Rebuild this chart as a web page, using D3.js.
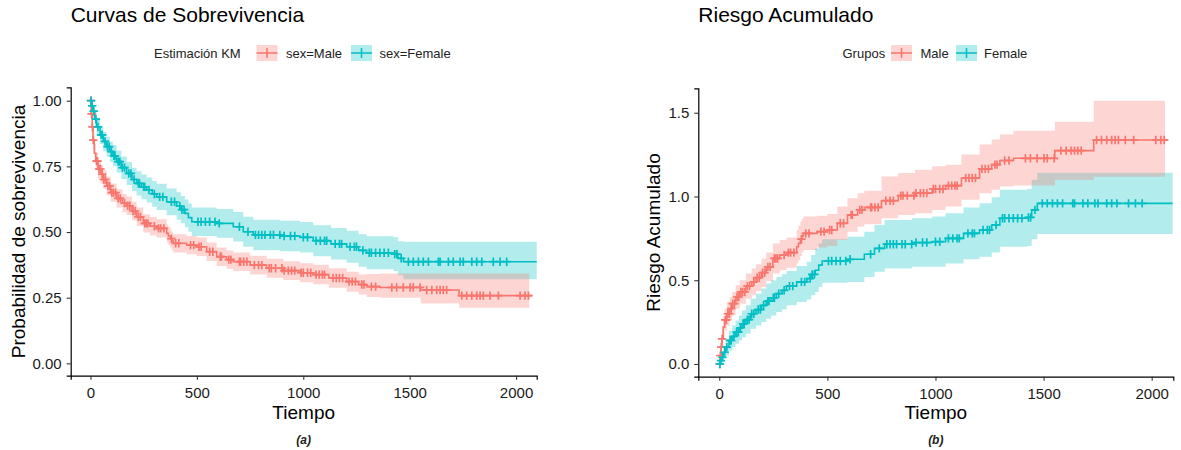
<!DOCTYPE html>
<html><head><meta charset="utf-8">
<script src="https://cdn.jsdelivr.net/npm/d3@7"></script>
<style>
body{margin:0;background:#fff;}
text{font-family:"Liberation Sans",Arial,Helvetica,sans-serif;}
</style>
</head><body>
<svg id="chart" width="1181" height="450"></svg>
<script>
// ---------- DATA ----------
const groups = ["Male", "Female"];
const colors = ["#F8766D", "#00BFC4"];
const xTickValues = [0, 500, 1000, 1500, 2000];
const survTicks = [0, 0.25, 0.5, 0.75, 1];
const hazTicks = [0, 0.5, 1, 1.5];

const maleTime = [0,3,8,12,18,25,35,48,60,76,95,123,150,170,195,217,248,280,311,358,366,375,382,389,452,499,546,593,640,671,750,828,906,985,1047,1120,1204,1260,1298,1361,1552,1732];
const maleSurv = [1,.95,.90,.85,.80,.77,.74,.72,.70,.675,.65,.628,.61,.60,.58,.558,.533,.522,.514,.495,.485,.475,.466,.457,.45,.444,.425,.406,.395,.387,.374,.362,.353,.345,.338,.325,.311,.30,.292,.289,.279,.258];
const maleSurvHi = [1,.97,.93,.885,.835,.805,.775,.755,.735,.71,.685,.663,.645,.635,.615,.593,.568,.557,.549,.53,.52,.51,.501,.492,.485,.479,.46,.441,.43,.422,.41,.398,.389,.381,.375,.362,.349,.338,.34,.342,.342,.342];
const maleSurvLo = [1,.93,.87,.815,.765,.735,.705,.685,.665,.64,.615,.593,.575,.565,.545,.523,.498,.487,.479,.46,.45,.44,.431,.422,.415,.409,.39,.371,.36,.352,.338,.326,.317,.309,.301,.288,.273,.262,.253,.25,.228,.212];
const maleHaz = [0,.05,.10,.15,.22,.263,.30,.33,.36,.40,.43,.465,.49,.515,.545,.58,.63,.65,.665,.70,.72,.745,.765,.78,.79,.80,.84,.89,.92,.935,.975,1.005,1.02,1.045,1.065,1.11,1.165,1.19,1.215,1.228,1.274,1.337];
const maleHazHi = [0,.08,.14,.20,.28,.33,.37,.40,.43,.47,.50,.54,.57,.595,.63,.665,.72,.74,.755,.80,.825,.85,.865,.88,.885,.895,.94,.99,1.02,1.035,1.12,1.14,1.16,1.18,1.19,1.25,1.31,1.34,1.37,1.393,1.447,1.572];
const maleHazLo = [0,.02,.06,.10,.16,.20,.23,.26,.29,.33,.36,.39,.41,.435,.46,.495,.54,.56,.575,.60,.62,.645,.665,.68,.695,.705,.74,.79,.82,.835,.87,.89,.90,.92,.94,.98,1.02,1.04,1.06,1.065,1.098,1.118];
const maleCensor = [2,5,9,13,28,33,40,47,55,62,70,82,90,100,108,118,130,140,160,175,185,200,210,225,235,255,262,270,300,320,330,345,380,400,415,470,485,510,520,560,575,610,615,650,660,700,705,720,735,770,790,805,840,850,870,900,910,930,945,960,990,1000,1020,1035,1060,1075,1090,1100,1140,1155,1170,1185,1215,1230,1245,1275,1285,1320,1340,1416,1439,1470,1502,1517,1549,1580,1604,1627,1643,1658,1674,1745,1768,1792,1815,1831,1846,1878,1917,2019,2042,2058];
const maleEnd = [2075, 2062];   // last time of line, last time of band

const femaleTime = [0,5,12,20,29,45,60,75,91,105,123,145,170,195,217,240,264,290,311,358,405,425,444,460,476,593,671,718,765,891,985,1047,1130,1204,1260,1298,1424,1445,1471];
const femaleSurv = [1,.98,.96,.93,.90,.87,.845,.825,.806,.79,.768,.745,.723,.70,.685,.672,.66,.645,.634,.615,.599,.585,.571,.555,.539,.533,.52,.501,.489,.485,.48,.467,.455,.444,.43,.421,.416,.40,.387];
const femaleSurvHi = [1,.995,.985,.96,.935,.905,.882,.863,.845,.83,.81,.788,.767,.745,.731,.719,.708,.694,.684,.666,.651,.637,.624,.609,.593,.588,.576,.558,.547,.543,.538,.526,.515,.505,.492,.484,.48,.465,.463];
const femaleSurvLo = [1,.965,.935,.90,.865,.835,.808,.787,.767,.75,.726,.702,.679,.655,.639,.625,.612,.596,.584,.564,.547,.533,.518,.501,.485,.478,.464,.444,.431,.427,.422,.408,.395,.383,.368,.358,.352,.335,.32];
const femaleHaz = [0,.02,.04,.07,.10,.14,.165,.19,.215,.24,.265,.30,.325,.35,.375,.395,.42,.44,.465,.49,.51,.535,.56,.59,.615,.625,.655,.69,.715,.725,.73,.75,.78,.80,.83,.87,.875,.92,.959];
const femaleHazHi = [0,.04,.07,.11,.15,.20,.23,.26,.29,.32,.35,.39,.42,.45,.48,.50,.52,.535,.555,.585,.61,.65,.69,.72,.745,.76,.79,.83,.86,.87,.88,.90,.935,.96,.995,1.04,1.045,1.10,1.142];
const femaleHazLo = [0,0,.01,.03,.05,.08,.10,.12,.14,.16,.18,.21,.23,.25,.27,.29,.31,.325,.35,.37,.385,.41,.43,.46,.485,.49,.52,.55,.57,.58,.58,.60,.625,.64,.665,.70,.705,.745,.776];
const femaleCensor = [3,8,15,25,35,50,55,68,80,88,98,110,115,130,138,150,160,180,190,205,225,230,250,255,275,300,325,340,380,395,420,430,440,505,520,540,560,585,605,700,740,775,790,805,820,845,860,890,910,940,960,1000,1020,1060,1080,1100,1110,1150,1170,1180,1220,1240,1250,1280,1310,1320,1340,1360,1380,1400,1430,1440,1460,1494,1517,1541,1564,1588,1635,1643,1682,1705,1737,1752,1792,1815,1839,1893,1925,1956];
const femaleEnd = [2097, 2097];

// ---------- DRAWING ----------
const svg = d3.select("#chart");

function seriesRows(time, est, lo, hi) {
  return time.map((t, i) => ({t: t, v: est[i], lo: lo[i], hi: hi[i]}));
}

const panels = [
  {
    title: "Curvas de Sobrevivencia", ylab: "Probabilidad de sobrevivencia", tag: "(a)",
    xr: [70.7, 536.7], yr: [375.7, 87.3], xd: [-93, 2097], yd: [-0.047, 1.051],
    yTicks: survTicks, yFmt: d3.format(".2f"), ylabX: 25,
    series: [
      seriesRows(maleTime, maleSurv, maleSurvLo, maleSurvHi),
      seriesRows(femaleTime, femaleSurv, femaleSurvLo, femaleSurvHi)
    ],
    legendTitle: "Estimación KM", legendLabels: ["sex=Male", "sex=Female"],
    legendX: [154, 256.5, 286, 351, 379.5]
  },
  {
    title: "Riesgo Acumulado", ylab: "Riesgo Acumulado", tag: "(b)",
    xr: [698.3, 1173.3], yr: [376.7, 88.3], xd: [-97, 2100], yd: [-0.076, 1.646],
    yTicks: hazTicks, yFmt: d3.format(".1f"), ylabX: 660,
    series: [
      seriesRows(maleTime, maleHaz, maleHazLo, maleHazHi),
      seriesRows(femaleTime, femaleHaz, femaleHazLo, femaleHazHi)
    ],
    legendTitle: "Grupos", legendLabels: groups,
    legendX: [842.5, 891, 920.5, 956, 984]
  }
];
const censors = [maleCensor, femaleCensor];
const ends = [maleEnd, femaleEnd];

panels.forEach(p => {
  const x = d3.scaleLinear().domain(p.xd).range(p.xr);
  const y = d3.scaleLinear().domain(p.yd).range(p.yr);
  const g = svg.append("g");

  // ribbons (female first, male on top)
  [1, 0].forEach(k => {
    const rows = p.series[k].slice();
    const last = rows[rows.length - 1];
    rows.push({t: ends[k][1], v: last.v, lo: last.lo, hi: last.hi});
    const area = d3.area().curve(d3.curveStepAfter)
      .x(d => x(d.t)).y0(d => y(d.lo)).y1(d => y(d.hi));
    g.append("path").attr("d", area(rows))
      .attr("fill", colors[k]).attr("fill-opacity", 0.3).attr("stroke", "none");
  });

  // lines
  [0, 1].forEach(k => {
    const rows = p.series[k].slice();
    const last = rows[rows.length - 1];
    rows.push({t: ends[k][0], v: last.v});
    const line = d3.line().curve(d3.curveStepAfter).x(d => x(d.t)).y(d => y(d.v));
    g.append("path").attr("d", line(rows))
      .attr("fill", "none").attr("stroke", colors[k]).attr("stroke-width", 1.6);
  });

  // censor marks
  [0, 1].forEach(k => {
    const rows = p.series[k];
    const times = rows.map(r => r.t);
    censors[k].forEach(ct => {
      const i = Math.max(0, d3.bisectRight(times, ct) - 1);
      const cx = x(ct), cy = y(rows[i].v);
      g.append("path")
        .attr("d", `M${cx - 4.2},${cy}H${cx + 4.2}M${cx},${cy - 4.2}V${cy + 4.2}`)
        .attr("stroke", colors[k]).attr("stroke-width", 1.7).attr("fill", "none");
    });
  });

  // axes
  const xAxis = d3.axisBottom(x).tickValues(xTickValues).tickFormat(d3.format("d"))
    .tickSizeOuter(0).tickSize(4).tickPadding(8);
  const yAxis = d3.axisLeft(y).tickValues(p.yTicks).tickFormat(p.yFmt)
    .tickSizeOuter(0).tickSize(4).tickPadding(5);
  const gx = svg.append("g").attr("transform", `translate(0,${p.yr[0]})`).call(xAxis);
  const gy = svg.append("g").attr("transform", `translate(${p.xr[0]},0)`).call(yAxis);
  [gx, gy].forEach(a => {
    a.select(".domain").attr("stroke", "#000").attr("stroke-width", 1.2);
    a.selectAll(".tick line").attr("stroke", "#333").attr("stroke-width", 1.1);
    a.selectAll(".tick text").attr("fill", "#1a1a1a").style("font-size", "15px")
      .style("font-family", '"Liberation Sans",Arial,sans-serif');
  });

  const cx = (p.xr[0] + p.xr[1]) / 2;
  const cy = (p.yr[0] + p.yr[1]) / 2;
  // axis titles
  svg.append("text").attr("x", cx).attr("y", 419).attr("text-anchor", "middle")
    .style("font-size", "19px").attr("fill", "#000").text("Tiempo");
  svg.append("text").attr("transform", `translate(${p.ylabX},${cy}) rotate(-90)`)
    .attr("text-anchor", "middle").style("font-size", "19px").attr("fill", "#000").text(p.ylab);
  // panel tag
  svg.append("text").attr("x", cx).attr("y", 443.5).attr("text-anchor", "middle")
    .style("font-size", "12px").style("font-weight", "bold").style("font-style", "italic")
    .attr("fill", "#222").text(p.tag);
  // title
  svg.append("text").attr("x", p.xr[0]).attr("y", 21.5)
    .style("font-size", "21px").attr("fill", "#000").text(p.title);

  // legend
  const ly = 53;
  svg.append("text").attr("x", p.legendX[0]).attr("y", ly + 4.5)
    .style("font-size", "13px").attr("fill", "#222").text(p.legendTitle);
  [0, 1].forEach(k => {
    const kx = p.legendX[1 + 2 * k];
    svg.append("rect").attr("x", kx).attr("y", ly - 8).attr("width", 21).attr("height", 16)
      .attr("fill", colors[k]).attr("fill-opacity", 0.3);
    svg.append("path").attr("d", `M${kx},${ly}H${kx + 21}M${kx + 10.5},${ly - 5}V${ly + 5}`)
      .attr("stroke", colors[k]).attr("stroke-width", 1.5);
    svg.append("text").attr("x", p.legendX[2 + 2 * k]).attr("y", ly + 4.5)
      .style("font-size", "13px").attr("fill", "#222").text(p.legendLabels[k]);
  });
});
</script>
</body></html>
